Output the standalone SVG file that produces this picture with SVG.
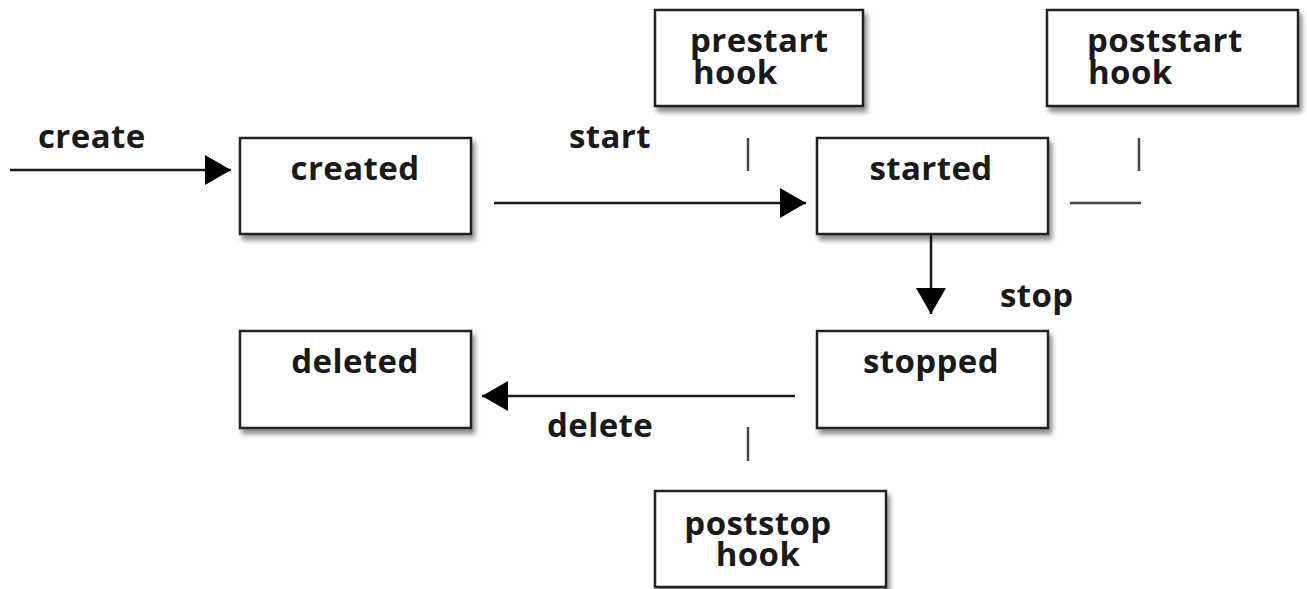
<svg xmlns="http://www.w3.org/2000/svg" width="1307" height="589" viewBox="0 0 1307 589">
<defs>
<filter id="sh" x="-10%" y="-10%" width="130%" height="140%">
<feDropShadow dx="3" dy="5" stdDeviation="2.5" flood-color="#000" flood-opacity="0.45"/>
</filter>
<marker id="arr" viewBox="0 0 26 30" refX="26" refY="15" markerWidth="26" markerHeight="30" markerUnits="userSpaceOnUse" orient="auto">
<path d="M0,0 L26,15 L0,30 Z" fill="#000"/>
</marker>
<style>
.box{fill:#fff;stroke:#222;stroke-width:2.5;filter:url(#sh)}
text{font-family:"Open Sans","Noto Sans","Liberation Sans",sans-serif;font-weight:700;font-size:33px;letter-spacing:0.4px;fill:#1a1a1a}
.c{text-anchor:middle}
.ln{stroke:#1a1a1a;stroke-width:2.5;fill:none}
.tk{stroke:#444;stroke-width:2.5;fill:none}
</style>
</defs>
<rect width="1307" height="589" fill="#fff"/>
<g id="connectors">
<line class="ln" x1="10" y1="170" x2="231" y2="170" marker-end="url(#arr)"/>
<line class="ln" x1="494" y1="203" x2="806" y2="203" marker-end="url(#arr)"/>
<line class="ln" x1="931" y1="235" x2="931" y2="314" marker-end="url(#arr)"/>
<line class="ln" x1="795" y1="396" x2="482" y2="396" marker-end="url(#arr)"/>
<line class="tk" x1="748" y1="138" x2="748" y2="171"/>
<line class="tk" x1="1139" y1="138" x2="1139" y2="171"/>
<line class="tk" x1="1070" y1="203" x2="1141" y2="203"/>
<line class="tk" x1="748" y1="427" x2="748" y2="461"/>
<text x="38" y="148">create</text>
<text x="569" y="148">start</text>
<text x="1000" y="307">stop</text>
<text x="547" y="437">delete</text>
</g>
<g id="created"><rect class="box" x="240" y="138" width="231" height="96"/><text class="c" x="355" y="180">created</text></g>
<g id="started"><rect class="box" x="817" y="138" width="231" height="96"/><text class="c" x="931" y="180">started</text></g>
<g id="stopped"><rect class="box" x="817" y="331" width="231" height="97"/><text class="c" x="931" y="373">stopped</text></g>
<g id="deleted"><rect class="box" x="240" y="331" width="231" height="97"/><text class="c" x="355" y="373">deleted</text></g>
<g id="prestart"><rect class="box" x="655" y="10" width="208" height="96"/><text x="690" y="52">prestart</text><text x="693" y="84">hook</text></g>
<g id="poststart"><rect class="box" x="1047" y="10" width="251" height="96"/><text x="1087" y="52">poststart</text><text x="1088" y="84">hook</text></g>
<g id="poststop"><rect class="box" x="655" y="491" width="231" height="96"/><text class="c" x="758" y="535">poststop</text><text class="c" x="758" y="566">hook</text></g>
</svg>
